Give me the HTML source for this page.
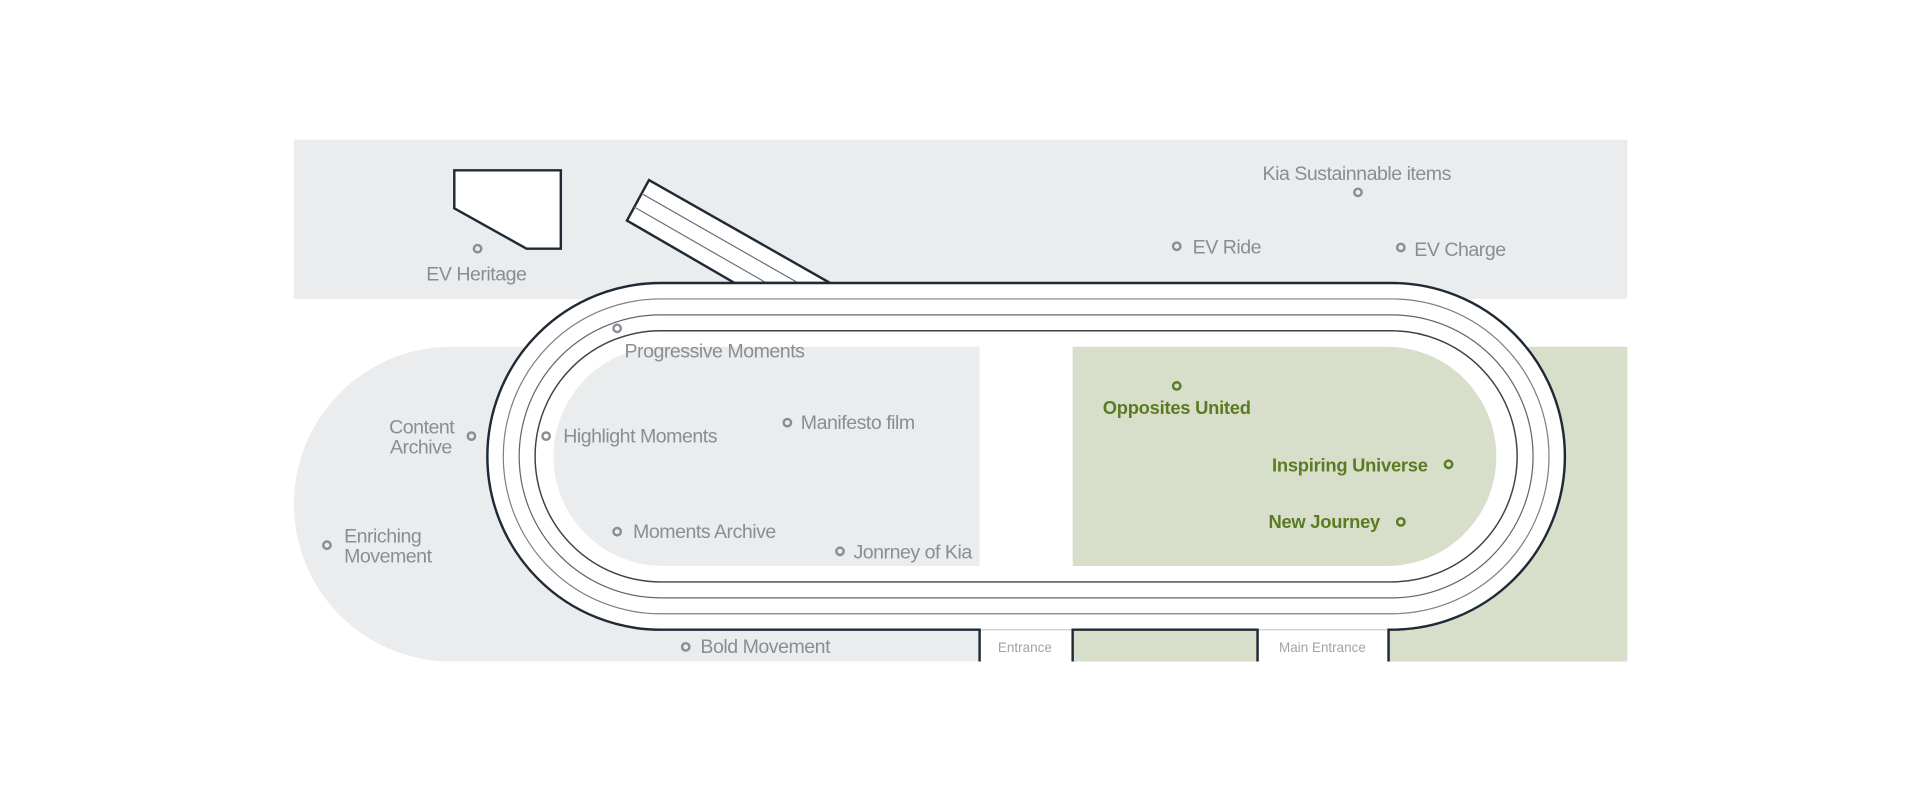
<!DOCTYPE html>
<html><head><meta charset="utf-8"><style>
html,body{margin:0;padding:0;background:#fff;width:1920px;height:800px;overflow:hidden}
svg{display:block}
text{font-family:"Liberation Sans",sans-serif;font-size:16px;fill:#8a8d92;letter-spacing:-0.4px}
.g{fill:#5b7b22;font-weight:bold;font-size:15px;letter-spacing:-0.2px}
.s{font-size:11px;fill:#a0a3a7;letter-spacing:0}
</style></head><body>
<svg width="1920" height="800" viewBox="0 0 1568 653" preserveAspectRatio="none">
<rect x="240" y="114" width="1089" height="130" fill="#ebecee"/>
<path d="M368.5 283 H800 V540 H368.5 A128.5 128.5 0 0 1 368.5 283 Z" fill="#ebecee"/>
<rect x="876" y="283" width="453" height="257" fill="#d7dfca"/>
<polygon points="371,139 458,139 458,203 430,203 371,170" fill="#fff" stroke="#1f2a36" stroke-width="2"/>
<polygon points="530,147 678,231 600,231 512,180" fill="#fff" stroke="#1f2a36" stroke-width="2"/>
<line x1="524" y1="158" x2="652" y2="231" stroke="#6b7280" stroke-width="1"/>
<line x1="518" y1="169" x2="626" y2="231" stroke="#6b7280" stroke-width="1"/>
<rect x="398" y="231" width="880" height="283" rx="141.5" fill="#fff" stroke="#1f2a36" stroke-width="2"/>
<rect x="411" y="244" width="854" height="257" rx="128.5" fill="none" stroke="#7b818a" stroke-width="1"/>
<rect x="424" y="257" width="828" height="231" rx="115.5" fill="none" stroke="#5f6670" stroke-width="1"/>
<rect x="437" y="270" width="802" height="205" rx="102.5" fill="none" stroke="#3a434e" stroke-width="1.2"/>
<path d="M541.5 283 H800 V462 H541.5 A89.5 89.5 0 0 1 541.5 283 Z" fill="#ebecee"/>
<path d="M876 283 H1132.5 A89.5 89.5 0 0 1 1132.5 462 H876 Z" fill="#d7dfca"/>
<rect x="801" y="512" width="74" height="30" fill="#fff"/>
<rect x="1028" y="512" width="105" height="30" fill="#fff"/>
<line x1="801" y1="514" x2="875" y2="514" stroke="#c9ccd0" stroke-width="1"/>
<line x1="1028" y1="514" x2="1133" y2="514" stroke="#c9ccd0" stroke-width="1"/>
<path d="M800 540 V514 M876 540 V514 M1027 514 V540 M1134 514 V540" stroke="#1f2a36" stroke-width="2" fill="none"/>
<text class="s" x="837" y="532" text-anchor="middle">Entrance</text>
<text class="s" x="1080" y="532" text-anchor="middle">Main Entrance</text>
<g fill="none" stroke="#8a8d92" stroke-width="2">
<circle cx="390" cy="203" r="3"/><circle cx="1109" cy="157" r="3"/><circle cx="961" cy="201" r="3"/><circle cx="1144" cy="202" r="3"/>
<circle cx="504" cy="268" r="3"/><circle cx="385" cy="356" r="3"/><circle cx="446" cy="356" r="3"/><circle cx="643" cy="345" r="3"/>
<circle cx="504" cy="434" r="3"/><circle cx="686" cy="450" r="3"/><circle cx="267" cy="445" r="3"/><circle cx="560" cy="528" r="3"/>
</g>
<g fill="none" stroke="#5b7b22" stroke-width="2">
<circle cx="961" cy="315" r="3"/><circle cx="1183" cy="379" r="3"/><circle cx="1144" cy="426" r="3"/>
</g>
<text x="389" y="229" text-anchor="middle">EV Heritage</text>
<text x="1108" y="147" text-anchor="middle">Kia Sustainnable items</text>
<text x="974" y="207">EV Ride</text>
<text x="1155" y="209">EV Charge</text>
<text x="510" y="292">Progressive Moments</text>
<text x="371" y="354" text-anchor="end">Content</text>
<text x="369" y="370" text-anchor="end">Archive</text>
<text x="460" y="361">Highlight Moments</text>
<text x="654" y="350">Manifesto film</text>
<text x="517" y="439">Moments Archive</text>
<text x="697" y="456">Jonrney of Kia</text>
<text x="281" y="443">Enriching</text>
<text x="281" y="459">Movement</text>
<text x="572" y="533">Bold Movement</text>
<text class="g" x="961" y="338" text-anchor="middle">Opposites United</text>
<text class="g" x="1166" y="385" text-anchor="end">Inspiring Universe</text>
<text class="g" x="1127" y="431" text-anchor="end">New Journey</text>
</svg>
</body></html>
